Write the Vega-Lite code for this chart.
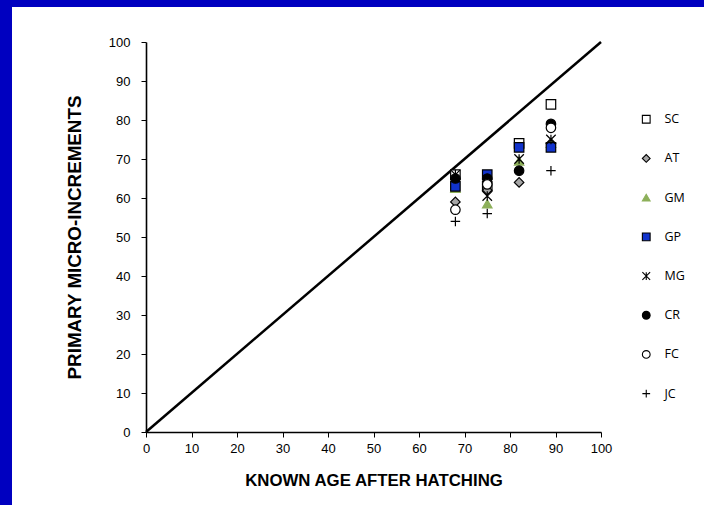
{
  "$schema": "https://vega.github.io/schema/vega-lite/v6.json",
  "autosize": {"type": "none"},
  "width": 455,
  "height": 390,
  "padding": {"left": 146, "top": 42, "right": 103, "bottom": 73},
  "background": "white",
  "config": {
    "view": {"stroke": null},
    "axis": {
      "grid": false,
      "domainColor": "black",
      "domainWidth": 1.6,
      "tickColor": "black",
      "tickSize": 5,
      "labelFont": "Liberation Sans",
      "labelFontSize": 13,
      "labelColor": "black",
      "labelOverlap": false,
      "labelFlush": false,
      "titleFont": "Liberation Sans",
      "titleFontWeight": "bold",
      "titleColor": "black"
    },
    "axisX": {"titleFontSize": 16.8, "labelPadding": 5, "titlePadding": 17},
    "axisY": {"titleFontSize": 18.8, "labelPadding": 11, "titlePadding": 24}
  },
  "resolve": {"scale": {"x": "independent", "y": "independent"}},
  "layer": [
    {
      "data": {"values": [{"part": "left"}]},
      "mark": {"type": "rect", "color": "#0000C0", "clip": false},
      "encoding": {
        "x": {"datum": -40, "type": "quantitative", "scale": {"domain": [0, 100]}, "axis": null},
        "x2": {"datum": -29.45},
        "y": {"datum": -40, "type": "quantitative", "scale": {"domain": [0, 100]}, "axis": null},
        "y2": {"datum": 130}
      }
    },
    {
      "data": {"values": [{"part": "top"}]},
      "mark": {"type": "rect", "color": "#0000C0", "clip": false},
      "encoding": {
        "x": {"datum": -40, "type": "quantitative", "scale": {"domain": [0, 100]}, "axis": null},
        "x2": {"datum": 130},
        "y": {"datum": 108.97, "type": "quantitative", "scale": {"domain": [0, 100]}, "axis": null},
        "y2": {"datum": 130}
      }
    },
    {
      "data": {"values": [{"age": 0, "count": 0}, {"age": 100, "count": 100}]},
      "mark": {"type": "line", "color": "black", "strokeWidth": 2.5},
      "encoding": {
        "x": {"field": "age", "type": "quantitative", "scale": {"domain": [0, 100]}, "axis": null},
        "y": {"field": "count", "type": "quantitative", "scale": {"domain": [0, 100]}, "axis": null}
      }
    },
    {
      "data": {"values": [
        {"species": "SC", "age": 68, "count": 66},
        {"species": "SC", "age": 75, "count": 63},
        {"species": "SC", "age": 82, "count": 74},
        {"species": "SC", "age": 89, "count": 84},
        {"species": "AT", "age": 68, "count": 59},
        {"species": "AT", "age": 75, "count": 62},
        {"species": "AT", "age": 82, "count": 64},
        {"species": "AT", "age": 89, "count": 74},
        {"species": "GM", "age": 68, "count": 62.5},
        {"species": "GM", "age": 75, "count": 58.5},
        {"species": "GM", "age": 82, "count": 69.5},
        {"species": "GM", "age": 89, "count": 74},
        {"species": "GP", "age": 68, "count": 63},
        {"species": "GP", "age": 75, "count": 66},
        {"species": "GP", "age": 82, "count": 73},
        {"species": "GP", "age": 89, "count": 73},
        {"species": "MG", "age": 68, "count": 66},
        {"species": "MG", "age": 75, "count": 60.5},
        {"species": "MG", "age": 82, "count": 70},
        {"species": "MG", "age": 89, "count": 75},
        {"species": "CR", "age": 68, "count": 65},
        {"species": "CR", "age": 75, "count": 65},
        {"species": "CR", "age": 82, "count": 67},
        {"species": "CR", "age": 89, "count": 79},
        {"species": "FC", "age": 68, "count": 57},
        {"species": "FC", "age": 75, "count": 63.5},
        {"species": "FC", "age": 89, "count": 78},
        {"species": "JC", "age": 68, "count": 54},
        {"species": "JC", "age": 75, "count": 56},
        {"species": "JC", "age": 89, "count": 67}
      ]},
      "mark": {"type": "point", "size": 90, "strokeWidth": 1.2, "opacity": 1},
      "encoding": {
        "x": {
          "field": "age", "type": "quantitative", "scale": {"domain": [0, 100]},
          "axis": {"values": [0,10,20,30,40,50,60,70,80,90,100], "title": "KNOWN AGE AFTER HATCHING"}
        },
        "y": {
          "field": "count", "type": "quantitative", "scale": {"domain": [0, 100]},
          "axis": {"values": [0,10,20,30,40,50,60,70,80,90,100], "title": "PRIMARY MICRO-INCREMENTS"}
        },
        "shape": {
          "field": "species", "type": "nominal",
          "scale": {
            "domain": ["SC","AT","GM","GP","MG","CR","FC","JC"],
            "range": ["square","diamond","triangle-up","square","M-1,-1L1,1M-1,1L1,-1M0,-1L0,1","circle","circle","M-1,0L1,0M0,-1L0,1"]
          },
          "legend": {
            "title": null, "orient": "none", "legendX": 494, "legendY": 71,
            "symbolSize": 60, "labelFont": "Open Sans", "labelFontSize": 12.5, "labelColor": "black",
            "rowPadding": 26.2, "labelOffset": 12, "symbolStrokeWidth": 1.1
          }
        },
        "fill": {
          "field": "species", "type": "nominal",
          "scale": {
            "domain": ["SC","AT","GM","GP","MG","CR","FC","JC"],
            "range": ["white","#A6A6A6","#8DB05A","#1133CC","transparent","black","white","transparent"]
          }
        },
        "stroke": {
          "field": "species", "type": "nominal",
          "scale": {
            "domain": ["SC","AT","GM","GP","MG","CR","FC","JC"],
            "range": ["black","black","#8DB05A","black","black","black","black","black"]
          }
        }
      }
    }
  ]
}
